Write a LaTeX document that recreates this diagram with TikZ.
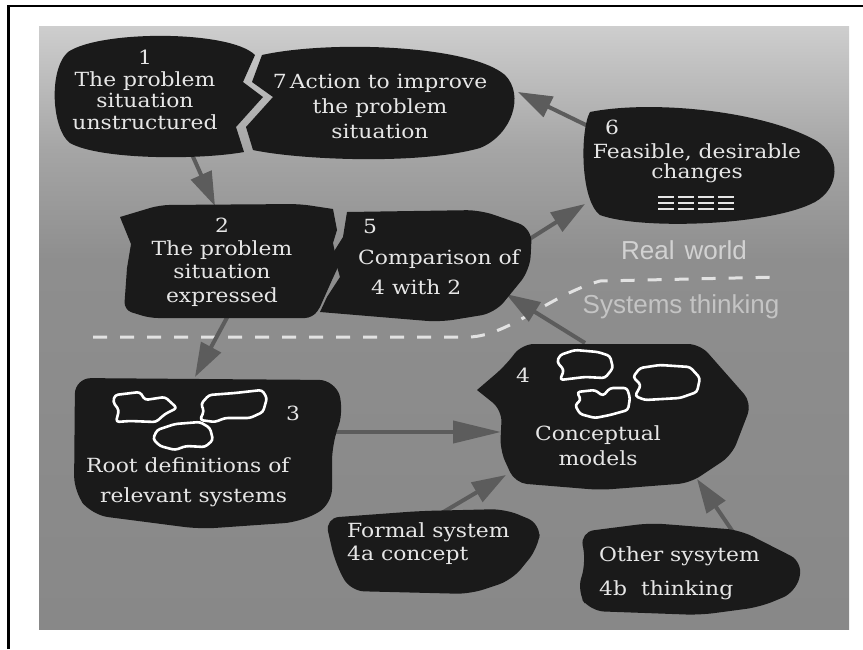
\documentclass[tikz,border=0pt]{standalone}
\usepackage{fontspec}
\setmainfont{DejaVu Serif}
\newfontfamily\blobfont[FakeStretch=1.12]{DejaVu Serif}
\newfontfamily\labelfont{Liberation Sans}
\usetikzlibrary{arrows.meta}
\definecolor{blobblack}{HTML}{1A1A1A}
\definecolor{textwhite}{HTML}{E6E6E6}
\definecolor{arrgray}{HTML}{5C5C5C}
\definecolor{bgD}{HTML}{888888}
\definecolor{bgE}{HTML}{8E8E8E}
\definecolor{bgM}{HTML}{A5A5A5}
\definecolor{bgT}{HTML}{CECECE}
\definecolor{dashwhite}{HTML}{E2E2E2}
\definecolor{realcol}{HTML}{D2D2D2}
\definecolor{syscol}{HTML}{C4C4C4}
\pgfdeclareverticalshading{bgsh}{100bp}{color(0bp)=(bgD); color(25bp)=(bgD); color(55.6bp)=(bgE); color(64.7bp)=(bgM); color(75bp)=(bgT); color(100bp)=(bgT)}
\tikzset{
  blob/.style={fill=blobblack, rounded corners=16pt},
  cloud/.style={draw=white, line width=2.6pt, rounded corners=3pt, line join=round},
  btext/.style={text=textwhite, inner sep=0pt, font=\blobfont\fontsize{19.5}{#1}\selectfont},
  btext/.default=22,
  arr/.style={draw=arrgray, line width=4pt, -{Triangle[length=34pt,width=22pt]}},
  worldlabel/.style={inner sep=0pt, font=\labelfont\fontsize{26}{28}\selectfont}
}
\begin{document}
\begin{tikzpicture}[x=1pt,y=-1pt]
\useasboundingbox (0,0) rectangle (863,649);
% background panel
\shade[shading=bgsh] (39,26) rectangle (849,629);
% frame lines
\draw[line width=2.7pt] (8.7,649) -- (8.7,6) -- (863,6);
% dashed boundary
\draw[dashwhite, line width=3pt, dash pattern=on 14pt off 13pt]
  (93,337) -- (470,337) .. controls (510,335) and (550,295) .. (600,281) -- (780,277);
% arrow end points
\coordinate (a12s) at (190,150); \coordinate (a12e) at (215,206);
\coordinate (a23s) at (230,312); \coordinate (a23e) at (195,377);
\coordinate (a34s) at (330,432); \coordinate (a34e) at (501,432);
\coordinate (a4as) at (440,514); \coordinate (a4ae) at (506,475);
\coordinate (a4bs) at (733,532); \coordinate (a4be) at (697,479);
\coordinate (a45s) at (585,343); \coordinate (a45e) at (506,294);
\coordinate (a56s) at (528,240); \coordinate (a56e) at (585,204);
\coordinate (a67s) at (588,126); \coordinate (a67e) at (518,92);
\draw[arr] (a12s) -- (a12e);
\draw[arr] (a23s) -- (a23e);
\draw[arr,-{Triangle[length=48pt,width=22pt]}] (a34s) -- (a34e);
\draw[arr] (a4as) -- (a4ae);
\draw[arr] (a4bs) -- (a4be);
\draw[arr] (a45s) -- (a45e);
\draw[arr] (a56s) -- (a56e);
\draw[arr] (a67s) -- (a67e);
% blob 1
\fill[blobblack] (255,55) -- (243,82) -- (263,97) -- (236,127) -- (244,152)
  .. controls (200,160) and (100,160) .. (70,143)
  .. controls (52,130) and (48,70) .. (68,52)
  .. controls (100,30) and (230,30) .. (255,55) -- cycle;
% blob 7
\fill[blobblack] (262,55) .. controls (330,40) and (470,45) .. (505,75)
  .. controls (525,95) and (512,135) .. (480,148)
  .. controls (420,165) and (300,160) .. (253,150)
  -- (246,127) -- (273,97) -- (252,82) -- cycle;
% blob 6
\fill[blobblack] (590,112) .. controls (650,100) and (760,110) .. (815,140)
  .. controls (842,155) and (840,188) .. (815,202)
  .. controls (770,226) and (640,230) .. (600,215)
  .. controls (580,200) and (580,130) .. (590,112) -- cycle;
% blob 2
\fill[blobblack] (120,217) [rounded corners=10pt] -- (160,205) -- (300,204) [sharp corners] -- (333,209)
  -- (337,230) -- (333,243) -- (338,267) -- (332,280) -- (320,307) [rounded corners=8pt] -- (313,318)
  -- (150,318) -- (124,310) [sharp corners] -- (127,268) -- (131,244) -- cycle;
% blob 5
\fill[blobblack] (347,212) [rounded corners=14pt] -- (480,210) -- (532,228) -- (530,270) -- (495,313)
  -- (440,322) [sharp corners] -- (320,312) -- (327,297) -- (340,277) -- (333,253) -- (343,237) -- cycle;
% blob 3
\fill[blob] (200,379) -- (335,380) -- (344,410) -- (332,445) -- (332,505) -- (300,522)
  -- (200,529) -- (92,515) -- (74,492) -- (75,378) -- cycle;
% blob 4
\fill[blob, rounded corners=12pt] (610,344) -- (700,344) -- (752,403) -- (732,455) -- (690,483)
  -- (600,490) -- (515,483) -- (500,450) -- (502,410) [sharp corners] -- (477,390) [rounded corners=12pt] -- (505,366) -- (522,344) -- cycle;
% blob 4a
\fill[blob, rounded corners=14pt] (420,511) -- (505,509) -- (541,524) -- (538,548) -- (512,580)
  -- (470,594) -- (350,591) -- (335,562) -- (325,518) -- cycle;
% blob 4b
\fill[blob, rounded corners=14pt] (650,523) -- (740,530) -- (803,562) -- (796,592)
  -- (760,607) -- (700,615) -- (590,611) -- (577,592) -- (586,562) -- (580,532) -- cycle;
% clouds in blob 3
\draw[cloud] (115,395) -- (140,392) -- (145,400) -- (165,397) -- (177,408) -- (165,414) -- (156,422)
  -- (130,421) -- (116,422) -- (119,410) -- (113,402) -- cycle;
\draw[cloud] (201,404) -- (209,395) -- (235,393) -- (262,390) -- (267,398) -- (263,412) -- (250,418)
  -- (225,418) -- (215,422) -- (200,420) -- (204,411) -- cycle;
\draw[cloud] (157,430) -- (175,424) -- (200,422) -- (210,428) -- (213,440) -- (205,447) -- (186,446)
  -- (175,450) -- (160,446) -- (153,439) -- cycle;
% clouds in blob 4
\draw[cloud] (560,355) -- (575,350) -- (598,352) -- (610,356) -- (613,368) -- (605,378) -- (585,377)
  -- (560,380) -- (564,370) -- (557,362) -- cycle;
\draw[cloud] (640,368) -- (660,365) -- (690,367) -- (700,378) -- (697,392) -- (680,398) -- (645,400)
  -- (635,396) -- (641,385) -- (633,377) -- cycle;
\draw[cloud] (577,392) -- (595,390) -- (603,396) -- (610,388) -- (627,388) -- (630,398) -- (628,410)
  -- (610,415) -- (595,418) -- (580,414) -- (575,405) -- (581,400) -- cycle;
% equal-sign marks in blob 6
\foreach \yy in {197,203,209}{
  \foreach \xx in {658,678,698,718}{
    \draw[textwhite, line width=1.6pt] (\xx,\yy) -- ++(16,0);
  }
}
% texts
\node[btext=21.7, align=center] (t1) at (145,90) {1\\The problem\\situation\\unstructured};
\node[btext=25, align=center] (t7) at (380,106) {7\,Action to improve\\the problem\\situation};
\node[btext] (t6n) at (612,127) {6};
\node[btext=20, align=center] (t6) at (697,163) {Feasible, desirable\\changes};
\node[btext=23.3, align=center] (t2) at (222,262) {2\\The problem\\situation\\expressed};
\node[btext] (t5n) at (370,227) {5};
\node[btext=30, align=left, anchor=west] (t5) at (358,272) {Comparison of\\\hspace*{13pt}4 with 2};
\node[btext] (t3n) at (293,413) {3};
\node[btext=30, align=left, anchor=west] (t3) at (86,482) {Root definitions of\\\hspace*{14pt}relevant systems};
\node[btext] (t4n) at (523,375) {4};
\node[btext=25, align=center] (t4) at (598,446) {Conceptual\\models};
\node[btext=23, align=left, anchor=west] (t4a) at (347,544) {Formal system\\4a concept};
\node[btext=34, align=left, anchor=west] (t4b) at (599,573) {Other sysytem\\4b\hspace{14pt}thinking};
\node[worldlabel, text=realcol] (rw) at (684,250) {Real\hspace{10pt}world};
\node[worldlabel, text=syscol] (st) at (681,307) {Systems thinking};
\end{tikzpicture}
\end{document}
